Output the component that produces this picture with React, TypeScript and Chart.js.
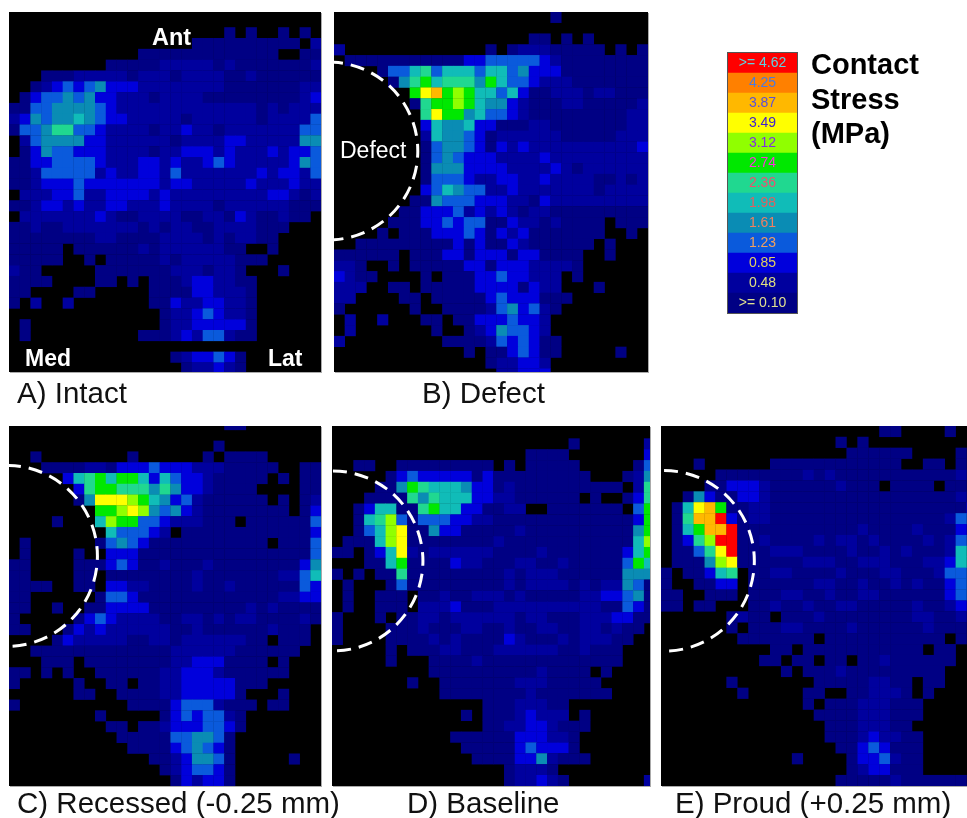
import React, { useEffect, useRef } from "react";
import { Chart, registerables } from "chart.js";

Chart.register(...registerables);

// Stress bands, lowest first. A digit in a map row is an index into these (0 = no contact).
const stressLabels = [">= 0.10", "0.48", "0.85", "1.23", "1.61", "1.98", "2.36", "2.74", "3.12", "3.49", "3.87", "4.25", ">= 4.62"];
const stressValues = [0, 0.1, 0.48, 0.85, 1.23, 1.61, 1.98, 2.36, 2.74, 3.12, 3.49, 3.87, 4.25, 4.62];
const bandColors = ["#000000", "#000084", "#00009e", "#0000dc", "#0a5adc", "#0a8cb4", "#10bcb8", "#20d890", "#00e800", "#90ff00", "#ffff00", "#ffb800", "#ff8000", "#ff0000"];
const labelColors = ["#e0e090", "#e0e080", "#e0d060", "#f0a060", "#f08060", "#e06060", "#f05070", "#ff30e0", "#8030e0", "#4020d0", "#5a50d8", "#4a7ae0", "#60d0e0"];

const mapA = [
  "00000000000000000000000000000",
  "00000000000000000000101001010",
  "00000000000000000111111111102",
  "00000000000011111111111110011",
  "00000000011111222221211111112",
  "00011122222122212222112111111",
  "00123434533322222222111111122",
  "01344545332221222211111111123",
  "11445555432222222222222121222",
  "23545565433222221222222122224",
  "14457744322221223221222222244",
  "02455553322222212222332222255",
  "01354433322221223332322232334",
  "11334444322233232234322222354",
  "11244444232233242222222323324",
  "11233343333333233222223222322",
  "02223342233332322222222233212",
  "11233232233222322221222222111",
  "02222222321122221122132112110",
  "11211222222212122112222111000",
  "11111111221111222212122110000",
  "11111011111121222222110010000",
  "11111001011111212222211100000",
  "21100000111111122212210001000",
  "11110000110101112332211000000",
  "11000011000001111332221000000",
  "10200200000001132233221000000",
  "00000000000000122343221000000",
  "01000000000000122333331000000",
  "01000000000011123244211000000",
  "00000000000000000000000000000",
  "00000000000000012334310000000",
  "00000000000000001223210000000",
];

const mapB = [
  "00000000000000000000100000000",
  "00000000000000000000000000000",
  "00000000000000000011010100000",
  "20000000000000101222111110101",
  "01111111111133444443211111111",
  "00001446746664664533311111111",
  "00000157867775864432221111111",
  "00000008ab8986646311222122111",
  "00000001788986553211122111112",
  "000000007a8856443211111111122",
  "00000000365563311122111111122",
  "00000000265543122222211111222",
  "00000000145543132322222222223",
  "00000000145433322223222222222",
  "00000000155533332222321222222",
  "00000000144432233223222211212",
  "00000000346544223222222212222",
  "00000001154443332213222222222",
  "00000011333423232122111111111",
  "00000111334344113221211110111",
  "00001011133343132311111110010",
  "00111111111313113211111101000",
  "11111101113313331331111001000",
  "22100101111133133322221000000",
  "32110000101113343322201000000",
  "22200110111113333132200010000",
  "22000011011111343331110000000",
  "10000001001111245342100000000",
  "02002000110113334332000000000",
  "02000000010012354432000000000",
  "20000000001111243431100000000",
  "00000000000010113431100000100",
  "00000000000000122332000000000",
  "00000000000000022333000000000",
];

const mapC = [
  "00000000000000000000110000000",
  "00000000000000000000000000000",
  "00000000000000000001000000000",
  "00100000000100000010111100000",
  "00011112213334333222111110011",
  "00000367868863643321111101011",
  "00000037887775753321111000011",
  "00000015aaa986534211111101012",
  "00000000889a95453211111111013",
  "00001000698844322211101111114",
  "00000000064443201111111111113",
  "01000000145431111111111101114",
  "01000010033311111111111111114",
  "11000011134311211121111111135",
  "11000011011111111211111112246",
  "11110011033221111211211111143",
  "11000000144311111111111112233",
  "11001001133331111111112121111",
  "10000013432222112212122111121",
  "11000132322222211211111121110",
  "00001322222112212222221101110",
  "00111111111111122222211111100",
  "00011101111111122333111101000",
  "11010100111111223332111111000",
  "10000010011011223333311100000",
  "00000011001111223333310001000",
  "10000000000111134442111011000",
  "00000000100000134344210000000",
  "00000000011011233344310000000",
  "00000000001111144554100000000",
  "00000000000111134543100000000",
  "00000000000001123554100000100",
  "00000000000000123443100000000",
  "00000000000000013233100000000",
];

const mapD = [
  "000000000000000000000000000000",
  "000000000000000000000010000002",
  "000000000000000000111100000003",
  "001100111111111010111110000014",
  "000001343333313111111111000125",
  "000011587666533121111111111027",
  "000111175766633221111110100137",
  "001366117866331122001111111048",
  "001679414443322111111111111138",
  "001469a11533111112111111111158",
  "011169a11111111211111111111169",
  "110136a21222222111121111111368",
  "000116811113221112211211111486",
  "101011711111111121222111111555",
  "010001411111111121222212122541",
  "010011101121122212111112233451",
  "010011102223111222222222211431",
  "100010112212222221221112223311",
  "100001112111221121122112212110",
  "100001111212111132111212221100",
  "000001011122111222222112111000",
  "000001000111121111111111111000",
  "000000000111111111121111010000",
  "000000010011111112221111100000",
  "000000000011111111211111110000",
  "000000000000001112221100000000",
  "000000000000101112322201000000",
  "000000000000001122332111000000",
  "000000000001111113332210000000",
  "000000000000111113433310000000",
  "000000000000011113352111000000",
  "000000000000000012221000000000",
  "000000000000000012232100000002",
];

const mapE = [
  "0000000000000000000011000010",
  "0000000000000000101000000000",
  "0000000000000000011111100001",
  "0001000000111111111111001101",
  "0000011111111212111111111112",
  "0000113332111111211101111011",
  "0015311332111111111111111112",
  "016ab811221111111111111111113",
  "017bbd3122111111111111111124",
  "0168bbd111111111112111121113",
  "01379dd112111121221211112124",
  "01147ad111222111121121211126",
  "011159a111111222112221112236",
  "1011367011221111211122111244",
  "1001133011111122112112121134",
  "1100111011122112112211111134",
  "1101100011211211221111121123",
  "0000001211011121111111122112",
  "0000001011122111121111112111",
  "0000000111111101111111111101",
  "0000000000110111111111110110",
  "0000000001101101101121111110",
  "0000000000010111211111111100",
  "0000001000000011111221101100",
  "0000000100000110011222101000",
  "0000000000000101112221110000",
  "0000000000000011112221110000",
  "0000000000000001112221100000",
  "0000000000000001112322110000",
  "0000000000000000113431110000",
  "0000000000001000013342110000",
  "0000000000000000012331110000",
  "0000000000000000111112111111",
];

type Arc = { cx: number; cy: number; r: number };
type Panel = {
  map: string[];
  left: number; top: number; width: number; height: number;
  xMin: number; xMax: number; yMin: number; yMax: number;
  arc?: Arc;
};

const panels: Panel[] = [
  { map: mapA, left: 9, top: 12, width: 312, height: 360, xMin: 0, xMax: 28.97, yMin: -0.42, yMax: 32.87 },
  { map: mapB, left: 334, top: 12, width: 314, height: 360, xMin: 0, xMax: 29, yMin: 0, yMax: 33.33, arc: { cx: -0.46, cy: 12.87, r: 8.2 } },
  { map: mapC, left: 9, top: 426, width: 312, height: 360, xMin: 0, xMax: 28.97, yMin: 0.63, yMax: 34, arc: { cx: -0.19, cy: 12.67, r: 8.4 } },
  { map: mapD, left: 332, top: 426, width: 318, height: 360, xMin: 0, xMax: 29.55, yMin: -0.15, yMax: 33, arc: { cx: 0.09, cy: 12.28, r: 8.36 } },
  { map: mapE, left: 661, top: 426, width: 306, height: 360, xMin: 0, xMax: 28.03, yMin: 0, yMax: 33, arc: { cx: 0.28, cy: 12.36, r: 8.27 } },
];

const captions = [
  { text: "A) Intact", left: 17, top: 376 },
  { text: "B) Defect", left: 422, top: 376 },
  { text: "C) Recessed (-0.25 mm)", left: 17, top: 786 },
  { text: "D) Baseline", left: 407, top: 786 },
  { text: "E) Proud (+0.25 mm)", left: 675, top: 786 },
];

const panelLabels = [
  { text: "Ant", left: 152, top: 23, size: 23.5, weight: 700 },
  { text: "Med", left: 25, top: 344, size: 23, weight: 700 },
  { text: "Lat", left: 268, top: 344, size: 23, weight: 700 },
  { text: "Defect", left: 340, top: 136, size: 23, weight: 400 },
];

const legendTitle = ["Contact", "Stress", "(MPa)"];

const FONT = '"Liberation Sans", Arial, sans-serif';

function HeatPanel({ panel }: { panel: Panel }) {
  const ref = useRef<HTMLCanvasElement>(null);
  useEffect(() => {
    const points: { x: number; y: number; v: number }[] = [];
    const colors: string[] = [];
    panel.map.forEach((row, r) => {
      row.split("").forEach((ch, c) => {
        const level = parseInt(ch, 16);
        if (level > 0) {
          points.push({ x: c + 0.5, y: r + 0.5, v: stressValues[level] });
          colors.push(bandColors[level]);
        }
      });
    });
    const cell = Math.max(panel.width / (panel.xMax - panel.xMin), panel.height / (panel.yMax - panel.yMin)) + 0.3;
    const arcPlugin = {
      id: "defectArc",
      afterDatasetsDraw(chart: any) {
        if (!panel.arc) return;
        const { ctx, scales } = chart;
        const x = scales.x.getPixelForValue(panel.arc.cx);
        const y = scales.y.getPixelForValue(panel.arc.cy);
        const r = scales.x.getPixelForValue(panel.arc.cx + panel.arc.r) - x;
        ctx.save();
        ctx.strokeStyle = "#ffffff";
        ctx.lineWidth = 3;
        ctx.setLineDash([14, 8]);
        ctx.beginPath();
        ctx.arc(x, y, r, -Math.PI / 2, Math.PI / 2);
        ctx.stroke();
        ctx.restore();
      },
    };
    const chart = new Chart(ref.current!, {
      type: "scatter",
      data: {
        datasets: [
          {
            data: points as any,
            pointStyle: "rect",
            pointRadius: cell * Math.SQRT1_2,
            pointBorderWidth: 0,
            pointBackgroundColor: colors,
          },
        ],
      },
      options: {
        responsive: false,
        animation: false,
        layout: { padding: 0, autoPadding: false },
        events: [],
        plugins: { legend: { display: false }, tooltip: { enabled: false } },
        scales: {
          x: { type: "linear", display: false, min: panel.xMin, max: panel.xMax },
          y: { type: "linear", display: false, reverse: true, min: panel.yMin, max: panel.yMax },
        },
      },
      plugins: [arcPlugin],
    });
    return () => chart.destroy();
  }, [panel]);
  return (
    <canvas
      ref={ref}
      width={panel.width}
      height={panel.height}
      style={{
        position: "absolute",
        left: panel.left,
        top: panel.top,
        width: panel.width,
        height: panel.height,
        background: "#000",
        boxShadow: "1px 1px 0 #aaa",
      }}
    />
  );
}

function StressLegend() {
  const ref = useRef<HTMLCanvasElement>(null);
  useEffect(() => {
    const labelPlugin = {
      id: "bandLabels",
      afterDatasetsDraw(chart: any) {
        const { ctx, scales, chartArea } = chart;
        ctx.save();
        ctx.font = `14px ${FONT}`;
        ctx.textAlign = "center";
        ctx.textBaseline = "middle";
        scales.y.getLabels().forEach((label: string, i: number) => {
          ctx.fillStyle = labelColors[labelColors.length - 1 - i];
          ctx.fillText(label, (chartArea.left + chartArea.right) / 2, scales.y.getPixelForValue(i) + 0.5);
        });
        ctx.restore();
      },
    };
    const chart = new Chart(ref.current!, {
      type: "bar",
      data: {
        labels: [...stressLabels].reverse(),
        datasets: [
          {
            data: stressLabels.map(() => 1),
            backgroundColor: bandColors.slice(1).reverse(),
            barPercentage: 1,
            categoryPercentage: 1,
            borderWidth: 0,
          },
        ],
      },
      options: {
        indexAxis: "y",
        responsive: false,
        animation: false,
        layout: { padding: 0, autoPadding: false },
        events: [],
        plugins: { legend: { display: false }, tooltip: { enabled: false } },
        scales: {
          x: { display: false, min: 0, max: 1 },
          y: { display: false },
        },
      },
      plugins: [labelPlugin],
    });
    return () => chart.destroy();
  }, []);
  return (
    <canvas
      ref={ref}
      width={69}
      height={260}
      style={{
        position: "absolute",
        left: 728,
        top: 53,
        width: 69,
        height: 260,
        outline: "1.5px solid #555",
      }}
    />
  );
}

export default function App() {
  useEffect(() => {
    document.body.style.margin = "0";
    document.body.style.background = "#fff";
  }, []);
  return (
    <div
      style={{
        position: "absolute",
        left: 0,
        top: 0,
        width: 967,
        height: 818,
        overflow: "hidden",
        fontFamily: FONT,
        filter: "blur(0.6px)",
      }}
    >
      {panels.map((p, i) => (
        <HeatPanel key={i} panel={p} />
      ))}
      <StressLegend />
      {panelLabels.map((l) => (
        <div
          key={l.text}
          style={{ position: "absolute", left: l.left, top: l.top, fontSize: l.size, fontWeight: l.weight, color: "#fff", lineHeight: "28px", whiteSpace: "nowrap" }}
        >
          {l.text}
        </div>
      ))}
      {captions.map((c) => (
        <div
          key={c.text}
          style={{ position: "absolute", left: c.left, top: c.top, fontSize: 29.5, color: "#111", lineHeight: "34px", whiteSpace: "nowrap" }}
        >
          {c.text}
        </div>
      ))}
      {legendTitle.map((t, i) => (
        <div
          key={t}
          style={{ position: "absolute", left: 811, top: 47 + i * 34.5, fontSize: 29, fontWeight: 700, color: "#000", lineHeight: "34px", whiteSpace: "nowrap" }}
        >
          {t}
        </div>
      ))}
    </div>
  );
}
